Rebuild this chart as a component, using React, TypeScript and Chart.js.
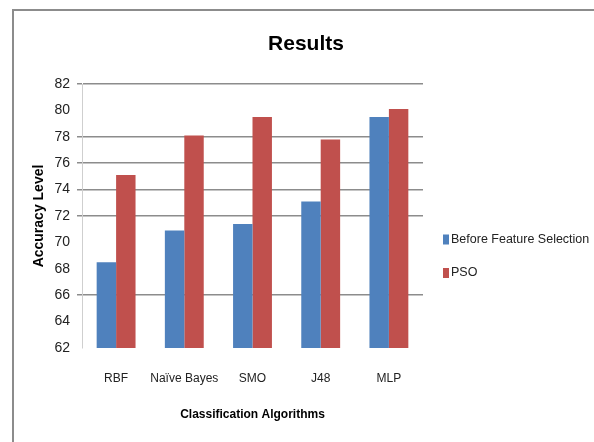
import React, { useEffect, useRef } from "react";
import { Chart, registerables } from "chart.js";

Chart.register(...registerables);

const categories = ["RBF", "Naïve Bayes", "SMO", "J48", "MLP"];
const beforeFeatureSelection = [68.5, 70.9, 71.4, 73.1, 79.5];
const pso = [75.1, 78.1, 79.5, 77.8, 80.1];
const seriesNames = ["Before Feature Selection", "PSO"];
const hiddenGridValues = [80, 70, 68, 64, 62];

const FONT = "'Liberation Sans', Arial, sans-serif";
const BLUE = "#4F81BD";
const RED = "#C0504D";

const decorPlugin = {
  id: "decor",
  beforeDraw(chart: any) {
    const ctx = chart.ctx;
    ctx.save();
    ctx.strokeStyle = "#8c8c8c";
    ctx.lineWidth = 2;
    ctx.beginPath();
    ctx.moveTo(13, 442);
    ctx.lineTo(13, 10);
    ctx.lineTo(594, 10);
    ctx.stroke();
    ctx.restore();
  },
  afterDraw(chart: any) {
    const ctx = chart.ctx;
    ctx.save();
    // title
    ctx.fillStyle = "#000";
    ctx.font = `bold 21px ${FONT}`;
    ctx.textAlign = "center";
    ctx.textBaseline = "middle";
    ctx.fillText("Results", 306, 44);
    // legend
    ctx.font = `12.5px ${FONT}`;
    ctx.textAlign = "left";
    const ys = [239.5, 273];
    chart.data.datasets.forEach((ds: any, i: number) => {
      ctx.fillStyle = ds.backgroundColor;
      ctx.fillRect(443, ys[i] - 5, 6, 10);
      ctx.fillStyle = "#222";
      ctx.fillText(ds.label, 451, ys[i]);
    });
    ctx.restore();
  },
};

export default function App() {
  const ref = useRef<HTMLCanvasElement>(null);
  useEffect(() => {
    if (!ref.current) return;
    const chart = new Chart(ref.current, {
      type: "bar",
      data: {
        labels: categories,
        datasets: [
          { label: seriesNames[0], data: beforeFeatureSelection, backgroundColor: BLUE, borderWidth: 0 },
          { label: seriesNames[1], data: pso, backgroundColor: RED, borderWidth: 0 },
        ],
      },
      options: {
        animation: false,
        responsive: false,
        maintainAspectRatio: false,
        layout: { padding: { left: 0, right: 171, top: 84, bottom: 0 } },
        datasets: { bar: { categoryPercentage: 0.57, barPercentage: 1 } },
        plugins: {
          legend: { display: false },
          title: { display: false },
          tooltip: { enabled: false },
        },
        scales: {
          x: {
            grid: { display: false, drawTicks: false },
            border: { display: false },
            ticks: {
              font: { family: FONT, size: 12 },
              color: "#222",
              padding: 23,
              maxRotation: 0,
              minRotation: 0,
              autoSkip: false,
            },
            title: {
              display: true,
              text: "Classification Algorithms",
              font: { family: FONT, size: 12, weight: "bold" },
              color: "#000",
              padding: { top: 0, bottom: 20 },
            },
            afterFit(scale: any) {
              scale.height = 94;
            },
          },
          y: {
            min: 62,
            max: 82,
            ticks: { stepSize: 2, font: { family: FONT, size: 14 }, color: "#222", padding: 7 },
            grid: {
              tickLength: 5,
              lineWidth: 1.5,
              color: (ctx: any) =>
                ctx.tick && hiddenGridValues.includes(ctx.tick.value) ? "rgba(0,0,0,0)" : "#8c8c8c",
            },
            border: { display: true, color: "#cfcfcf", width: 1 },
            title: {
              display: true,
              text: "Accuracy Level",
              font: { family: FONT, size: 14, weight: "bold" },
              color: "#000",
              padding: { top: 30.5, bottom: 0 },
            },
            afterFit(scale: any) {
              scale.width = 82;
            },
          },
        },
      },
      plugins: [decorPlugin],
    });
    return () => chart.destroy();
  }, []);
  return (
    <div style={{ position: "absolute", left: 0, top: 0, width: 594, height: 442, background: "#fff" }}>
      <canvas ref={ref} width={594} height={442} style={{ width: 594, height: 442 }} />
    </div>
  );
}
